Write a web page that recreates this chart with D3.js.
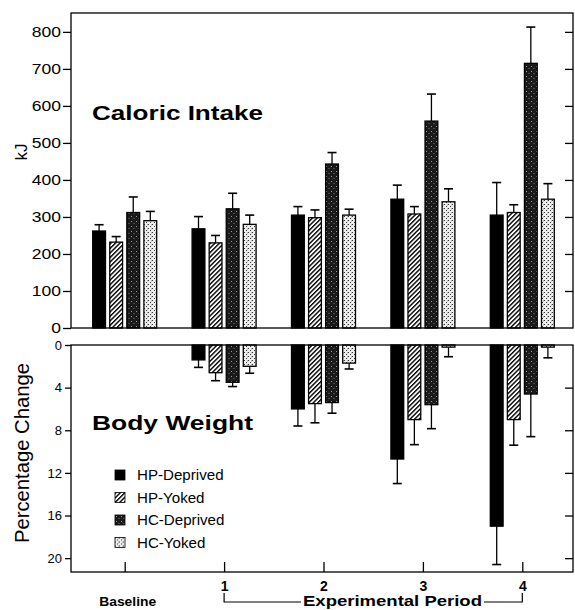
<!DOCTYPE html>
<html>
<head>
<meta charset="utf-8">
<script src="https://cdn.jsdelivr.net/npm/d3@7"></script>
<style>
  body { margin: 0; background: #fff; }
  svg { display: block; }
  text { font-family: "Liberation Sans", Arial, Helvetica, sans-serif; fill: #000; }
</style>
</head>
<body>
<div id="chart"></div>
<script>
// periods along the x axis and the four groups
var periods = ["Baseline", "1", "2", "3", "4"];
var groups = ["HP-Deprived", "HP-Yoked", "HC-Deprived", "HC-Yoked"];

// caloric intake, kJ (mean and error)
var intakeHPD = [262, 268, 305, 348, 305];
var intakeHPY = [232, 230, 298, 308, 312];
var intakeHCD = [312, 322, 443, 559, 715];
var intakeHCY = [290, 280, 305, 341, 348];
var intakeErrHPD = [17, 33, 23, 38, 88];
var intakeErrHPY = [15, 20, 21, 20, 21];
var intakeErrHCD = [42, 42, 31, 73, 98];
var intakeErrHCY = [25, 25, 16, 35, 42];

// body weight, percentage change (loss, drawn downward)
var weightHPD = [null, 1.4, 6.0, 10.7, 17.0];
var weightHPY = [null, 2.6, 5.5, 7.0, 7.0];
var weightHCD = [null, 3.5, 5.4, 5.6, 4.6];
var weightHCY = [null, 2.0, 1.7, 0.2, 0.2];
var weightErrHPD = [null, 0.7, 1.6, 2.3, 3.6];
var weightErrHPY = [null, 0.75, 1.8, 2.35, 2.4];
var weightErrHCD = [null, 0.4, 1.0, 2.25, 4.0];
var weightErrHCY = [null, 0.65, 0.55, 0.9, 1.0];

var intakeTicks = [0, 100, 200, 300, 400, 500, 600, 700, 800];
var weightTicks = [0, 4, 8, 12, 16, 20];

var intake = [intakeHPD, intakeHPY, intakeHCD, intakeHCY];
var intakeErr = [intakeErrHPD, intakeErrHPY, intakeErrHCD, intakeErrHCY];
var weight = [weightHPD, weightHPY, weightHCD, weightHCY];
var weightErr = [weightErrHPD, weightErrHPY, weightErrHCD, weightErrHCY];

var W = 575, H = 610;
var left = 71, right = 573;

var svg = d3.select("#chart").append("svg")
  .attr("width", W)
  .attr("height", H);

// fill patterns
var defs = svg.append("defs");
var hatch = defs.append("pattern").attr("id", "hatch")
  .attr("patternUnits", "userSpaceOnUse")
  .attr("width", 3.2).attr("height", 3.2)
  .attr("patternTransform", "rotate(45)");
hatch.append("rect").attr("width", 3.2).attr("height", 3.2).attr("fill", "#fff");
hatch.append("rect").attr("width", 1.4).attr("height", 3.2).attr("fill", "#000");

var darkDots = defs.append("pattern").attr("id", "darkdots")
  .attr("patternUnits", "userSpaceOnUse")
  .attr("width", 5).attr("height", 5);
darkDots.append("rect").attr("width", 5).attr("height", 5).attr("fill", "#1a1a1a");
darkDots.append("rect").attr("x", 1).attr("y", 1).attr("width", 1).attr("height", 1).attr("fill", "#999");
darkDots.append("rect").attr("x", 3.5).attr("y", 3).attr("width", 1).attr("height", 1).attr("fill", "#777");

var lightDots = defs.append("pattern").attr("id", "lightdots")
  .attr("patternUnits", "userSpaceOnUse")
  .attr("width", 4).attr("height", 4);
lightDots.append("rect").attr("width", 4).attr("height", 4).attr("fill", "#eee");
lightDots.append("rect").attr("x", 0).attr("y", 0).attr("width", 1).attr("height", 1).attr("fill", "#333");
lightDots.append("rect").attr("x", 2).attr("y", 2).attr("width", 1).attr("height", 1).attr("fill", "#333");
lightDots.append("rect").attr("x", 3).attr("y", 0.5).attr("width", 0.8).attr("height", 0.8).attr("fill", "#666");

var fills = ["#000", "url(#hatch)", "url(#darkdots)", "url(#lightdots)"];

// scales
var x = d3.scalePoint().domain(periods).range([75, 572]).padding(0.5);
var xi = d3.scaleBand().domain(groups).range([-32, 32]).paddingInner(0.25);
var yTop = d3.scaleLinear().domain([0, 851]).range([328, 13]);
var yBot = d3.scaleLinear().domain([0, 21.3]).range([345, 572]);

function stretch(sel, k) {
  sel.each(function () {
    var w = this.getComputedTextLength();
    d3.select(this).attr("textLength", w * k).attr("lengthAdjust", "spacingAndGlyphs");
  });
}

// flatten rows for drawing
function rows(vals, errs) {
  var out = [];
  groups.forEach(function (g, gi) {
    periods.forEach(function (p, pi) {
      if (vals[gi][pi] != null) out.push({ g: g, gi: gi, p: p, v: vals[gi][pi], e: errs[gi][pi] });
    });
  });
  return out;
}

// ---------- top panel: caloric intake ----------
var topG = svg.append("g");
var topRows = rows(intake, intakeErr);

topG.selectAll("line.err").data(topRows).enter().append("line")
  .attr("x1", function (d) { return x(d.p) + xi(d.g) + xi.bandwidth() / 2; })
  .attr("x2", function (d) { return x(d.p) + xi(d.g) + xi.bandwidth() / 2; })
  .attr("y1", function (d) { return yTop(d.v); })
  .attr("y2", function (d) { return yTop(d.v + d.e); })
  .attr("stroke", "#000").attr("stroke-width", 1.3);
topG.selectAll("line.cap").data(topRows).enter().append("line")
  .attr("x1", function (d) { return x(d.p) + xi(d.g) + xi.bandwidth() / 2 - 4.5; })
  .attr("x2", function (d) { return x(d.p) + xi(d.g) + xi.bandwidth() / 2 + 4.5; })
  .attr("y1", function (d) { return yTop(d.v + d.e); })
  .attr("y2", function (d) { return yTop(d.v + d.e); })
  .attr("stroke", "#000").attr("stroke-width", 1.6);
topG.selectAll("rect.bar").data(topRows).enter().append("rect")
  .attr("x", function (d) { return x(d.p) + xi(d.g); })
  .attr("y", function (d) { return yTop(d.v); })
  .attr("width", xi.bandwidth())
  .attr("height", function (d) { return yTop(0) - yTop(d.v); })
  .attr("fill", function (d) { return fills[d.gi]; })
  .attr("stroke", "#000").attr("stroke-width", 1.3);

topG.append("rect")
  .attr("x", left).attr("y", yTop.range()[1])
  .attr("width", right - left).attr("height", yTop.range()[0] - yTop.range()[1])
  .attr("fill", "none").attr("stroke", "#000").attr("stroke-width", 1.3);

var ayTop = topG.append("g").attr("transform", "translate(" + left + ",0)")
  .call(d3.axisLeft(yTop).tickValues(intakeTicks).tickSize(8).tickSizeOuter(0).tickPadding(2));
ayTop.select(".domain").remove();
ayTop.selectAll("line").attr("stroke-width", 1.3);
ayTop.selectAll("text").attr("font-size", 14).attr("font-family", "Liberation Sans, Arial, sans-serif");
stretch(ayTop.selectAll("text"), 1.25);

var ayTopR = topG.append("g").attr("transform", "translate(" + right + ",0)")
  .call(d3.axisRight(yTop).tickValues(intakeTicks.slice(1)).tickSize(-8).tickSizeOuter(0).tickFormat(""));
ayTopR.select(".domain").remove();
ayTopR.selectAll("line").attr("stroke-width", 1.3);

topG.append("text").attr("x", 92).attr("y", 120)
  .attr("font-size", 21).attr("font-weight", "bold")
  .attr("textLength", 171).attr("lengthAdjust", "spacingAndGlyphs")
  .text("Caloric Intake");

topG.append("text").attr("transform", "translate(27,152) rotate(-90)")
  .attr("text-anchor", "middle").attr("font-size", 17)
  .text("kJ");

// ---------- bottom panel: body weight ----------
var botG = svg.append("g");
var botRows = rows(weight, weightErr);

botG.selectAll("line.err").data(botRows).enter().append("line")
  .attr("x1", function (d) { return x(d.p) + xi(d.g) + xi.bandwidth() / 2; })
  .attr("x2", function (d) { return x(d.p) + xi(d.g) + xi.bandwidth() / 2; })
  .attr("y1", function (d) { return yBot(d.v); })
  .attr("y2", function (d) { return yBot(d.v + d.e); })
  .attr("stroke", "#000").attr("stroke-width", 1.3);
botG.selectAll("line.cap").data(botRows).enter().append("line")
  .attr("x1", function (d) { return x(d.p) + xi(d.g) + xi.bandwidth() / 2 - 4.5; })
  .attr("x2", function (d) { return x(d.p) + xi(d.g) + xi.bandwidth() / 2 + 4.5; })
  .attr("y1", function (d) { return yBot(d.v + d.e); })
  .attr("y2", function (d) { return yBot(d.v + d.e); })
  .attr("stroke", "#000").attr("stroke-width", 1.6);
botG.selectAll("rect.bar").data(botRows).enter().append("rect")
  .attr("x", function (d) { return x(d.p) + xi(d.g); })
  .attr("y", yBot(0))
  .attr("width", xi.bandwidth())
  .attr("height", function (d) { return yBot(d.v) - yBot(0); })
  .attr("fill", function (d) { return fills[d.gi]; })
  .attr("stroke", "#000").attr("stroke-width", 1.3);

botG.append("rect")
  .attr("x", left).attr("y", yBot.range()[0])
  .attr("width", right - left).attr("height", yBot.range()[1] - yBot.range()[0])
  .attr("fill", "none").attr("stroke", "#000").attr("stroke-width", 1.3);

var ayBot = botG.append("g").attr("transform", "translate(" + left + ",0)")
  .call(d3.axisLeft(yBot).tickValues(weightTicks).tickSize(6).tickSizeOuter(0).tickPadding(3));
ayBot.select(".domain").remove();
ayBot.selectAll("line").attr("stroke-width", 1.3);
ayBot.selectAll("text").attr("font-size", 13).attr("font-family", "Liberation Sans, Arial, sans-serif");

var ayBotR = botG.append("g").attr("transform", "translate(" + right + ",0)")
  .call(d3.axisRight(yBot).tickValues(weightTicks.slice(1)).tickSize(-8).tickSizeOuter(0).tickFormat(""));
ayBotR.select(".domain").remove();
ayBotR.selectAll("line").attr("stroke-width", 1.3);

var axBot = botG.append("g").attr("transform", "translate(0," + yBot.range()[1] + ")")
  .call(d3.axisBottom(x).tickSize(-10).tickSizeOuter(0).tickPadding(9)
    .tickFormat(function (d) { return d === "Baseline" ? "" : d; }));
axBot.select(".domain").remove();
axBot.selectAll("line").attr("stroke-width", 1.3);
axBot.selectAll("text").attr("font-size", 14).attr("font-weight", "bold")
  .attr("font-family", "Liberation Sans, Arial, sans-serif");

botG.append("text").attr("x", 92).attr("y", 430)
  .attr("font-size", 21).attr("font-weight", "bold")
  .attr("textLength", 161).attr("lengthAdjust", "spacingAndGlyphs")
  .text("Body Weight");

botG.append("text").attr("transform", "translate(29,453) rotate(-90)")
  .attr("text-anchor", "middle").attr("font-size", 20)
  .attr("textLength", 180).attr("lengthAdjust", "spacingAndGlyphs")
  .text("Percentage Change");

// x labels under the axis
botG.append("text").attr("x", x("Baseline") + 3).attr("y", 606)
  .attr("text-anchor", "middle").attr("font-size", 13).attr("font-weight", "bold")
  .attr("textLength", 57).attr("lengthAdjust", "spacingAndGlyphs")
  .text("Baseline");

var bx0 = x("1"), bx1 = x("4"), by = 602;
botG.append("path")
  .attr("d", "M" + bx0 + "," + (by - 9) + "V" + by + "H" + 301)
  .attr("fill", "none").attr("stroke", "#000").attr("stroke-width", 1.2);
botG.append("path")
  .attr("d", "M" + 484 + "," + by + "H" + bx1 + "V" + (by - 9))
  .attr("fill", "none").attr("stroke", "#000").attr("stroke-width", 1.2);
botG.append("text").attr("x", 392.5).attr("y", 606)
  .attr("text-anchor", "middle").attr("font-size", 14).attr("font-weight", "bold")
  .attr("textLength", 179).attr("lengthAdjust", "spacingAndGlyphs")
  .text("Experimental Period");

// legend
var legend = botG.append("g").attr("transform", "translate(115,470)");
var li = legend.selectAll("g").data(groups).enter().append("g")
  .attr("transform", function (d, i) { return "translate(0," + (i * 22.5) + ")"; });
li.append("rect").attr("width", 10).attr("height", 10)
  .attr("fill", function (d, i) { return fills[i]; })
  .attr("stroke", "#000").attr("stroke-width", 0.8);
li.append("text").attr("x", 22).attr("y", 10)
  .attr("font-size", 14)
  .text(function (d) { return d; });
stretch(li.selectAll("text"), 1.08);
</script>
</body>
</html>
